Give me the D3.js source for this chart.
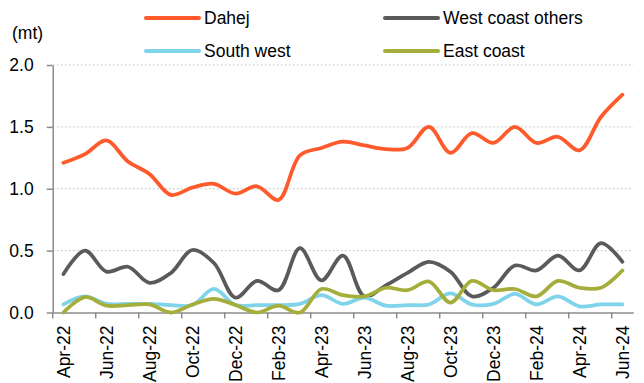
<!DOCTYPE html>
<html>
<head>
<meta charset="utf-8">
<script src="https://cdn.jsdelivr.net/npm/d3@7"></script>
<style>
  body { margin: 0; background: #fff; }
  text { font-family: "Liberation Sans", Arial, sans-serif; fill: #000; }
</style>
</head>
<body>
<div id="chart"></div>
<script>
// monthly volumes (mt), Apr-22 .. Jun-24
const months = ["Apr-22","May-22","Jun-22","Jul-22","Aug-22","Sep-22","Oct-22","Nov-22","Dec-22",
  "Jan-23","Feb-23","Mar-23","Apr-23","May-23","Jun-23","Jul-23","Aug-23","Sep-23","Oct-23",
  "Nov-23","Dec-23","Jan-24","Feb-24","Mar-24","Apr-24","May-24","Jun-24"];

const dahej = [1.21,1.28,1.39,1.22,1.12,0.95,1.01,1.04,0.96,1.02,0.91,1.27,1.33,1.38,
  1.35,1.32,1.33,1.50,1.29,1.45,1.37,1.50,1.37,1.42,1.31,1.58,1.76];
const westCoastOthers = [0.31,0.50,0.33,0.37,0.24,0.32,0.505,0.40,0.12,0.255,0.18,0.52,0.26,0.46,
  0.13,0.22,0.32,0.41,0.33,0.13,0.20,0.38,0.34,0.46,0.34,0.56,0.41];
const southWest = [0.065,0.13,0.07,0.07,0.07,0.06,0.06,0.19,0.06,0.06,0.06,0.07,0.14,0.07,
  0.12,0.055,0.06,0.065,0.155,0.065,0.07,0.15,0.065,0.13,0.05,0.065,0.065];
const eastCoast = [0.0,0.125,0.055,0.06,0.065,0.0,0.065,0.11,0.06,0.0,0.055,0.0,0.19,0.14,
  0.13,0.20,0.18,0.25,0.08,0.255,0.18,0.19,0.13,0.255,0.20,0.20,0.34];

const yTicks = [0, 0.5, 1.0, 1.5, 2.0];

const series = [
  { name: "Dahej", values: dahej, color: "#ff5a2c" },
  { name: "West coast others", values: westCoastOthers, color: "#5a5a5a" },
  { name: "South west", values: southWest, color: "#7fd3ea" },
  { name: "East coast", values: eastCoast, color: "#a5ae3a" }
];

const W = 644, H = 383;
const plotLeft = 52.7, plotRight = 633.2, plotTop = 65, plotBottom = 312.5;

const svg = d3.select("#chart").append("svg")
  .attr("width", W).attr("height", H);

const x = d3.scaleBand().domain(months).range([plotLeft, plotRight]).padding(0);
const y = d3.scaleLinear().domain([0, 2]).range([plotBottom, plotTop]);
const cx = d => x(d) + x.bandwidth() / 2;

// gridlines
svg.append("g").selectAll("line")
  .data(yTicks.filter(d => d > 0))
  .enter().append("line")
  .attr("x1", plotLeft).attr("x2", plotRight)
  .attr("y1", d => y(d)).attr("y2", d => y(d))
  .attr("stroke", "#c8c8c8").attr("stroke-width", 1)
  .attr("stroke-dasharray", "2,2");

// y axis
const yAxis = svg.append("g")
  .attr("transform", "translate(" + plotLeft + ",0)")
  .call(d3.axisLeft(y).tickValues(yTicks).tickFormat(d3.format(".1f"))
    .tickSizeInner(6).tickSizeOuter(0).tickPadding(13));
yAxis.select(".domain").attr("stroke", "#8c8c8c").attr("stroke-width", 1.5);
yAxis.selectAll(".tick line").attr("stroke", "#8c8c8c").attr("stroke-width", 1.5);
yAxis.selectAll(".tick text").attr("font-size", "17.5px")
  .style("font-family", "'Liberation Sans', Arial, sans-serif").attr("fill", "#000");

// x axis
const labelMonths = months.filter((d, i) => i % 2 === 0);
const xAxis = svg.append("g")
  .attr("transform", "translate(0," + plotBottom + ")")
  .call(d3.axisBottom(x).tickValues(labelMonths).tickSizeInner(0).tickSizeOuter(0));
xAxis.select(".domain").attr("stroke", "#8c8c8c").attr("stroke-width", 1.5);
xAxis.selectAll(".tick line").remove();
xAxis.selectAll(".tick text")
  .attr("font-size", "17.5px")
  .style("font-family", "'Liberation Sans', Arial, sans-serif").attr("fill", "#000")
  .attr("transform", "rotate(-90)")
  .attr("text-anchor", "end")
  .attr("x", -13).attr("y", 0).attr("dy", "0.35em");

// x tick marks at category boundaries
svg.append("g").selectAll("line")
  .data(labelMonths)
  .enter().append("line")
  .attr("x1", d => x(d)).attr("x2", d => x(d))
  .attr("y1", plotBottom).attr("y2", plotBottom + 6)
  .attr("stroke", "#8c8c8c").attr("stroke-width", 1.5);

// lines
const line = d3.line()
  .x((d, i) => cx(months[i]))
  .y(d => y(d))
  .curve(d3.curveCatmullRom.alpha(0.5));

svg.append("g").selectAll("path")
  .data(series)
  .enter().append("path")
  .attr("d", d => line(d.values))
  .attr("fill", "none")
  .attr("stroke", d => d.color)
  .attr("stroke-width", 3.75)
  .attr("stroke-linejoin", "round")
  .attr("stroke-linecap", "round");

// unit label
svg.append("text")
  .attr("x", 12).attr("y", 33).attr("dy", "0.35em")
  .attr("font-size", "17.5px")
  .text("(mt)");

// legend
const legendPos = [
  { x: 146, y: 18 }, { x: 385, y: 18 },
  { x: 146, y: 51 }, { x: 385, y: 51 }
];
const legend = svg.append("g").selectAll("g")
  .data(series)
  .enter().append("g")
  .attr("transform", (d, i) => "translate(" + legendPos[i].x + "," + legendPos[i].y + ")");
legend.append("line")
  .attr("x1", 0).attr("x2", 53)
  .attr("stroke", d => d.color).attr("stroke-width", 4)
  .attr("stroke-linecap", "round");
legend.append("text")
  .attr("x", 58).attr("dy", "0.35em")
  .attr("font-size", "17.5px")
  .text(d => d.name);
</script>
</body>
</html>
